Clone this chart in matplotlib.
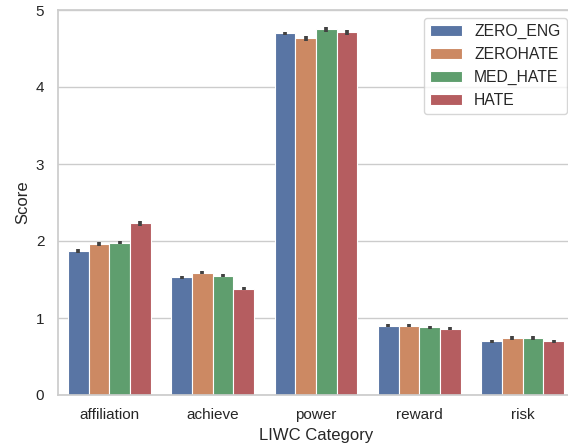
import matplotlib
matplotlib.use("Agg")
import matplotlib.pyplot as plt
import numpy as np
import seaborn as sns

sns.set_theme(style="whitegrid")
plt.rcParams['font.family'] = ['Liberation Sans', 'DejaVu Sans']

# data
categories = ["affiliation", "achieve", "power", "reward", "risk"]
groups = ["ZERO_ENG", "ZEROHATE", "MED_HATE", "HATE"]
scores = {
    "ZERO_ENG": [1.87, 1.53, 4.70, 0.90, 0.70],
    "ZEROHATE": [1.96, 1.59, 4.63, 0.90, 0.74],
    "MED_HATE": [1.98, 1.55, 4.75, 0.88, 0.74],
    "HATE":     [2.23, 1.38, 4.71, 0.86, 0.70],
}
errors = {
    "ZERO_ENG": [0.02, 0.02, 0.02, 0.02, 0.02],
    "ZEROHATE": [0.03, 0.02, 0.03, 0.02, 0.02],
    "MED_HATE": [0.02, 0.02, 0.03, 0.02, 0.02],
    "HATE":     [0.03, 0.02, 0.03, 0.02, 0.02],
}

colors = sns.color_palette("deep", 4, desat=0.75)

fig = plt.figure(figsize=(5.68, 4.47), dpi=100)
# axes runs a little past the right edge, like the cropped original
ax = fig.add_axes([57.5/568, 1 - 395/447, 517/568, 385/447])

x = np.arange(len(categories))
width = 0.2
for i, g in enumerate(groups):
    pos = x - 0.4 + width * (i + 0.5)
    ax.bar(pos, scores[g], width, color=colors[i], edgecolor="white",
           linewidth=0.8, label=g, zorder=2)
    ax.errorbar(pos, scores[g], yerr=errors[g], fmt="none", ecolor=".26",
                elinewidth=2.7, capsize=0, zorder=3)

ax.set_xlim(-0.5, len(categories) - 0.5)
ax.set_ylim(0, 5)
ax.set_xticks(x)
ax.set_xticklabels(categories)
ax.xaxis.grid(False)
ax.set_axisbelow(True)
ax.set_xlabel("LIWC Category", fontsize=12)
ax.set_ylabel("Score", fontsize=12)
ax.tick_params(labelsize=11)

ax.legend(loc="upper right", fontsize=11.3, frameon=True)

plt.savefig("out.png", dpi=100)
